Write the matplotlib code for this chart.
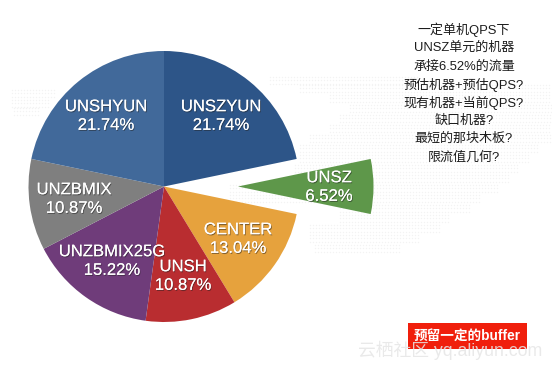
#!/usr/bin/env python3

import matplotlib
matplotlib.use("Agg")
import matplotlib.pyplot as plt
import matplotlib.patheffects as pe
import numpy as np

plt.rcParams['font.family'] = ['Liberation Sans', 'Noto Sans CJK SC', 'DejaVu Sans']

#-- data
names = ["UNSZYUN", "UNSZ", "CENTER", "UNSH", "UNZBMIX25G", "UNZBMIX", "UNSHYUN"]
shares = [21.74, 6.52, 13.04, 10.87, 15.22, 10.87, 21.74]
colors = ["#2d5588", "#5e974a", "#e6a23d", "#b92d30", "#6f3c7a", "#7f7f7f", "#41699a"]
explode = [0, 74, 0, 0, 0, 0, 0]
label_pos = [(221, 116), (329, 187), (238, 239), (183, 276), (112, 261), (74, 199), (106, 116)]

notes = ["一定单机QPS下", "UNSZ单元的机器", "承接6.52%的流量", "预估机器+预估QPS?",
         "现有机器+当前QPS?", "缺口机器?", "最短的那块木板?", "限流值几何?"]

# faint dotted world map behind the chart, as rows of x ranges
map_rows = [(77, 270, 420), (85, 300, 552), (95, 330, 552), (105, 350, 552), (115, 340, 552),
            (125, 330, 552), (135, 310, 552), (145, 300, 540), (155, 300, 530), (165, 295, 520),
            (175, 340, 510), (185, 230, 500), (195, 230, 480), (205, 340, 470), (215, 340, 450),
            (225, 310, 440), (235, 310, 420), (245, 315, 400), (90, 12, 55), (100, 12, 50), (108, 14, 40)]


def draw():
    fig = plt.figure(figsize=(5.52, 3.68), dpi=100)
    ax = fig.add_axes([0, 0, 1, 1])

    for y, x0, x1 in map_rows:
        for row in range(3):
            xs = np.arange(x0, x1, 3.0)
            ax.scatter(xs, [368 - y - row * 3.3] * len(xs), s=1.0, color="#f3f3f3", linewidths=0, zorder=0)

    ax.pie(shares, colors=colors, explode=explode, startangle=90, counterclock=False,
           center=(164, 181.5), radius=135.5, frame=False, wedgeprops={'linewidth': 0, 'zorder': 2})

    shadow = [pe.withSimplePatchShadow(offset=(0.6, -0.8), shadow_rgbFace='#222222', alpha=0.5), pe.Normal()]
    for n, s, (x, y) in zip(names, shares, label_pos):
        ax.text(x, 368 - y, f"{n}\n{s:.2f}%", color="white", fontsize=12, ha="center", va="center",
                linespacing=1.3, zorder=5, path_effects=shadow)

    for i, line in enumerate(notes):
        ax.text(464, 368 - (30 + i * 18.2), line, fontsize=9.4, color="#1c1c1c", ha="center", va="center", zorder=5)

    ax.text(467.5, 368 - 336, "预留一定的buffer", fontsize=9.8, color="white", weight="bold", ha="center", va="center",
            zorder=6, bbox=dict(boxstyle="square,pad=0.42", facecolor="#f01f0c", edgecolor="none"))
    ax.text(450, 368 - 350, "云栖社区 yq.aliyun.com", fontsize=12.8, color="#e6e6e6", alpha=0.85,
            ha="center", va="center", zorder=7)

    ax.set_xlim(0, 552)
    ax.set_ylim(0, 368)
    ax.set_aspect("equal")
    ax.axis("off")
    fig.savefig("out.png", dpi=100)


if __name__ == "__main__":
    draw()
